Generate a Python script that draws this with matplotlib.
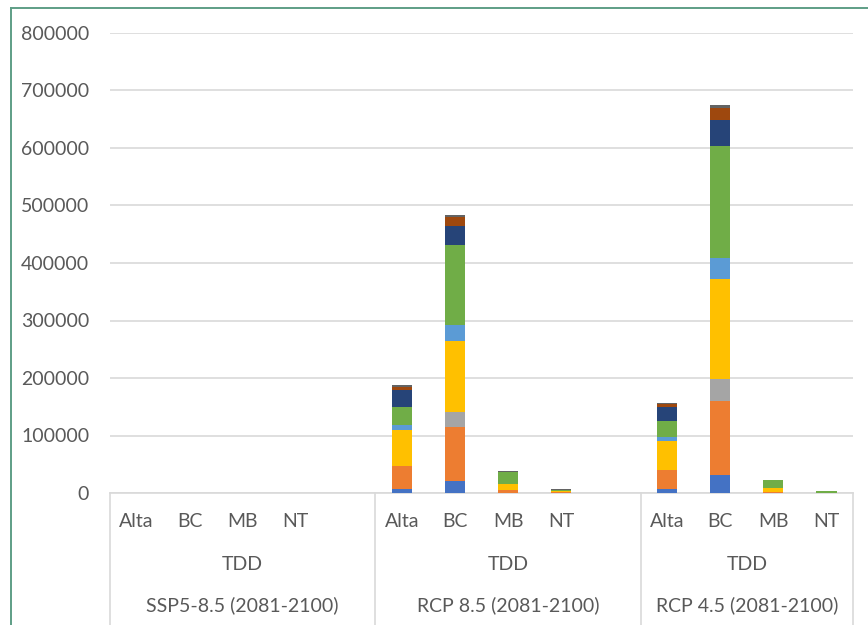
import matplotlib
matplotlib.use("Agg")
import matplotlib.pyplot as plt
from matplotlib.lines import Line2D

plt.rcParams["font.family"] = ["Lato", "DejaVu Sans"]

scenarios = ["SSP5-8.5 (2081-2100)", "RCP 8.5 (2081-2100)", "RCP 4.5 (2081-2100)"]
variable = "TDD"
provinces = ["Alta", "BC", "MB", "NT"]

# stacked segments, bottom to top, one value per scenario x province
seg_blue = [0, 0, 0, 0, 7000, 21000, 0, 0, 6400, 31300, 0, 0]
seg_orange = [0, 0, 0, 0, 40500, 94000, 5000, 1500, 33600, 128700, 2000, 0]
seg_gray = [0, 0, 0, 0, 0, 26500, 0, 0, 0, 38800, 0, 0]
seg_yellow = [0, 0, 0, 0, 62000, 122000, 10500, 2500, 51000, 173400, 7000, 500]
seg_lightblue = [0, 0, 0, 0, 8000, 28000, 0, 0, 6400, 37100, 0, 0]
seg_green = [0, 0, 0, 0, 32000, 140000, 21500, 2000, 27200, 194700, 13500, 2500]
seg_darkblue = [0, 0, 0, 0, 30000, 32000, 0, 0, 25500, 45200, 0, 0]
seg_brown = [0, 0, 0, 0, 5000, 16000, 0, 0, 4700, 20900, 0, 0]
seg_darkgray = [0, 0, 0, 0, 2500, 3500, 1000, 400, 2200, 5200, 0, 0]

segments = [seg_blue, seg_orange, seg_gray, seg_yellow, seg_lightblue,
            seg_green, seg_darkblue, seg_brown, seg_darkgray]
colors = ["#4472C4", "#ED7D31", "#A5A5A5", "#FFC000", "#5B9BD5",
          "#70AD47", "#264478", "#9E480E", "#636363"]

# each scenario takes 5 slots (4 provinces + an empty one), last has 4
slots_per_group = 5
n_slots = slots_per_group * (len(scenarios) - 1) + len(provinces)
xpos = [g * slots_per_group + i for g in range(len(scenarios)) for i in range(len(provinces))]

txt = "#595959"
grid = "#D9D9D9"
fs = 14

fig = plt.figure(figsize=(8.68, 6.25), dpi=100)
ax = fig.add_axes([110 / 868, 1 - 493 / 625, 743 / 868, 460 / 625])

bottom = [0] * len(xpos)
for vals, c in zip(segments, colors):
    ax.bar(xpos, vals, width=0.38, bottom=bottom, color=c, zorder=3)
    bottom = [b + v for b, v in zip(bottom, vals)]

ax.set_xlim(-0.5, n_slots - 0.5)
ax.set_ylim(0, 800000)
ax.set_yticks(range(0, 800001, 100000))
ax.tick_params(axis="y", length=0, pad=15, labelsize=fs, labelcolor=txt)
ax.set_xticks([])
ax.yaxis.grid(True, color=grid, linewidth=1.2, zorder=0)
for s in ["top", "right", "left"]:
    ax.spines[s].set_visible(False)
ax.spines["bottom"].set_color(grid)
ax.spines["bottom"].set_linewidth(1.2)

trans = ax.get_xaxis_transform()
# category labels in three levels
for x, name in zip(xpos, provinces * len(scenarios)):
    ax.text(x, -0.063, name, transform=trans, ha="center", va="center",
            fontsize=fs, color=txt)
for g, sc in enumerate(scenarios):
    start = g * slots_per_group - 0.5
    end = min(start + slots_per_group, n_slots - 0.5)
    mid = (start + end) / 2
    ax.text(mid, -0.156, variable, transform=trans, ha="center", va="center",
            fontsize=fs, color=txt)
    ax.text(mid, -0.245, sc, transform=trans, ha="center", va="center",
            fontsize=fs, color=txt)

# group dividers under the axis
for xd in [-0.5, 4.5, 9.5, n_slots - 0.5]:
    ax.plot([xd, xd], [0, -0.3], transform=trans, color=grid,
            linewidth=1.2, clip_on=False)

# green outer frame (cut off at right and bottom)
fig.add_artist(Line2D([11 / 868, 11 / 868], [0, 1 - 8 / 625], color="#5E9E86", linewidth=1.4))
fig.add_artist(Line2D([11 / 868, 1], [1 - 8 / 625, 1 - 8 / 625], color="#5E9E86", linewidth=1.4))

fig.savefig("out.png", dpi=100)
